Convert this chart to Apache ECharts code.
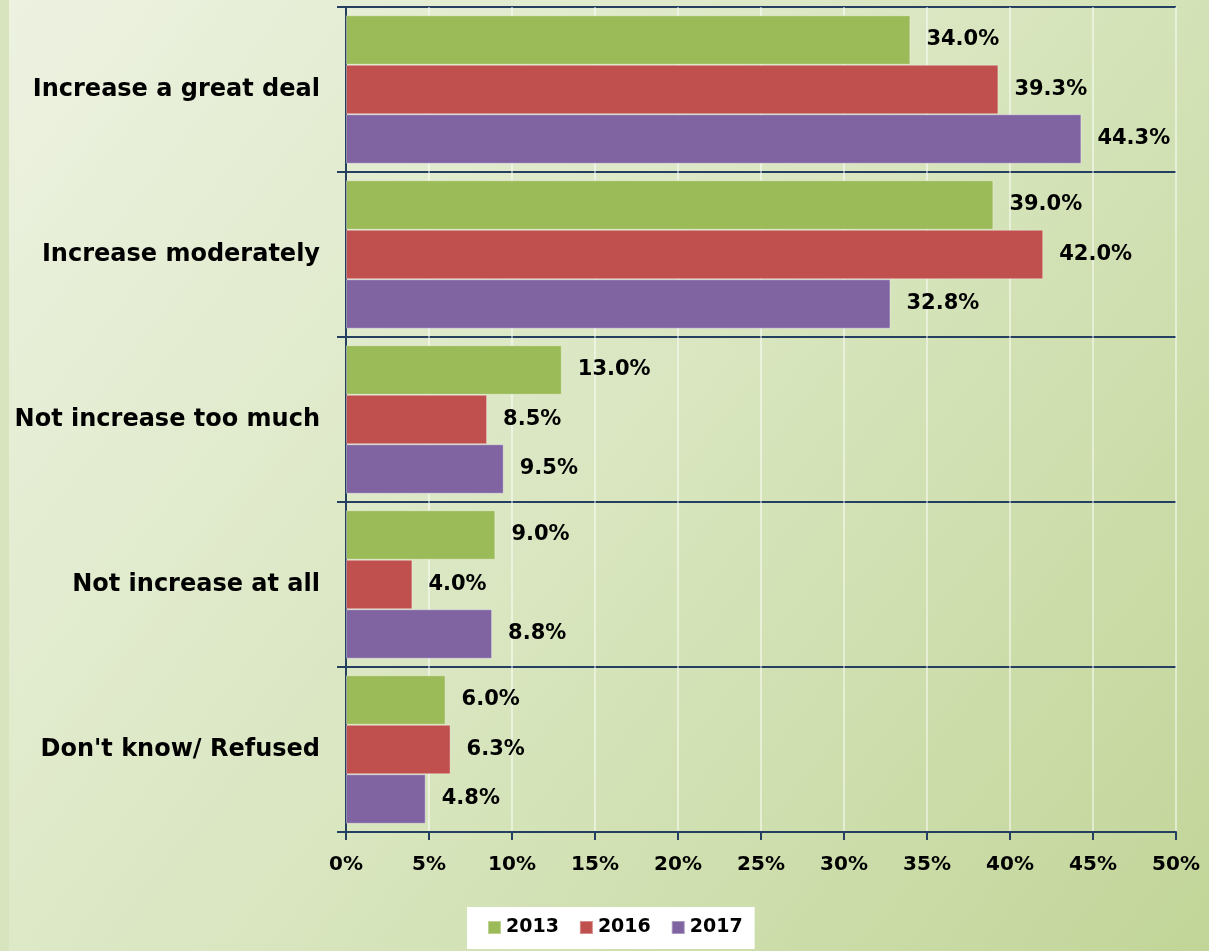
<!DOCTYPE html>
<html lang="en">
<head>
    <meta charset="UTF-8">
    <title>Increase survey 2013 / 2016 / 2017</title>
    <script src="https://cdn.jsdelivr.net/npm/echarts@6/dist/echarts.min.js"></script>
    <style>
        * { margin: 0; padding: 0; box-sizing: border-box; }
        html, body { width: 1209px; height: 951px; overflow: hidden; }
        #main { width: 1209px; height: 951px; }
    </style>
</head>
<body>
    <div id="main"></div>
    <script>
        // categories (top to bottom)
        const categories = ['Increase a great deal', 'Increase moderately', 'Not increase too much', 'Not increase at all', "Don't know/ Refused"];

        // series values (%)
        const years = ['2013', '2016', '2017'];
        const values2013 = [34.0, 39.0, 13.0, 9.0, 6.0];
        const values2016 = [39.3, 42.0, 8.5, 4.0, 6.3];
        const values2017 = [44.3, 32.8, 9.5, 8.8, 4.8];

        const colors = ['#9BBB59', '#C0504D', '#8064A2'];
        const navy = '#243F60';
        const font = 'DejaVu Sans';

        var myChart = echarts.init(document.getElementById('main'));

        const seriesValues = [values2013, values2016, values2017];
        const series = years.map((y, i) => ({
            name: y,
            type: 'bar',
            data: seriesValues[i],
            barGap: '0%',
            barCategoryGap: '10%',
            itemStyle: {
                color: colors[i],
                borderColor: 'rgba(255,255,255,0.35)',
                borderWidth: 1
            },
            label: {
                show: true,
                position: 'right',
                distance: 16,
                fontFamily: font,
                fontWeight: 'bold',
                fontSize: 21,
                color: '#000',
                formatter: p => p.value.toFixed(1) + '%'
            }
        }));

        var option = {
            backgroundColor: {
                type: 'linear', x: 0, y: 0, x2: 1, y2: 1,
                colorStops: [
                    { offset: 0, color: '#EDF2E1' },
                    { offset: 0.5, color: '#D9E6C0' },
                    { offset: 1, color: '#C2D598' }
                ]
            },
            animation: false,
            graphic: [{
                type: 'rect',
                left: 0, top: 0,
                shape: { width: 9, height: 951 },
                style: { fill: '#D7E4BD' },
                z: -1
            }],
            grid: {
                left: 346,
                right: 33,
                top: 7,
                bottom: 119
            },
            legend: {
                data: years,
                left: 467,
                top: 907,
                backgroundColor: '#fff',
                padding: [11, 12, 12, 20],
                itemWidth: 13,
                itemHeight: 13,
                itemGap: 20,
                icon: 'rect',
                textStyle: {
                    fontFamily: font,
                    fontWeight: 'bold',
                    fontSize: 19,
                    color: '#000'
                }
            },
            xAxis: {
                type: 'value',
                min: 0,
                max: 50,
                interval: 5,
                axisLine: { show: true, lineStyle: { color: navy, width: 2 } },
                axisTick: { show: true, length: 8, lineStyle: { color: navy, width: 2 } },
                splitLine: { show: true, lineStyle: { color: 'rgba(255,255,255,0.65)', width: 1.5 } },
                axisLabel: {
                    margin: 23,
                    formatter: '{value}%',
                    fontFamily: font,
                    fontWeight: 'bold',
                    fontSize: 20,
                    color: '#000'
                }
            },
            yAxis: {
                type: 'category',
                data: categories,
                inverse: true,
                axisLine: { show: true, lineStyle: { color: navy, width: 2 } },
                axisTick: { show: true, length: 9, interval: 0, lineStyle: { color: navy, width: 2 } },
                splitLine: { show: true, interval: 0, lineStyle: { color: navy, width: 2 } },
                axisLabel: {
                    margin: 26,
                    fontFamily: font,
                    fontWeight: 'bold',
                    fontSize: 24,
                    color: '#000'
                }
            },
            series: series
        };

        myChart.setOption(option);
    </script>
</body>
</html>
